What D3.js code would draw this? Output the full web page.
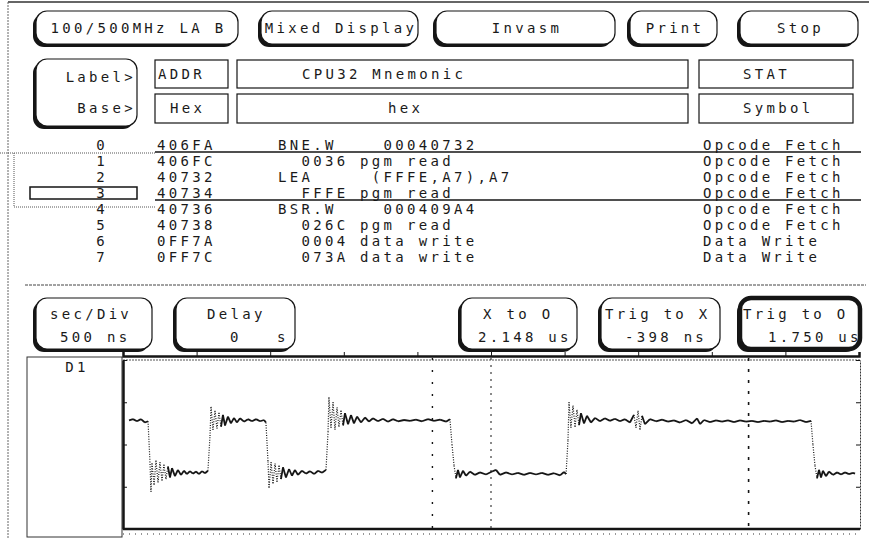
<!DOCTYPE html>
<meta charset="utf-8">
<script src="https://d3js.org/d3.v7.min.js"></script>
<style>
    body { margin: 0; background: white; }
    svg { display: block; }
    text { font-family: "DejaVu Sans Mono", monospace; font-size: 14px; letter-spacing: 3.3px; fill: #1a1a1a; white-space: pre; }
</style>
<body>
<div id="screen"></div>
<script>
// ---- data ----
var menuLabels = ["100/500MHz LA B", "Mixed Display", "Invasm", "Print", "Stop"];
var headerLabels = ["ADDR", "CPU32 Mnemonic", "STAT"];
var baseLabels = ["Hex", "hex", "Symbol"];
var rowIndex = ["0", "1", "2", "3", "4", "5", "6", "7"];
var rowAddr = ["406FA", "406FC", "40732", "40734", "40736", "40738", "0FF7A", "0FF7C"];
var rowMnemonic = [
    "BNE.W    00040732",
    "  0036 pgm read",
    "LEA     (FFFE,A7),A7",
    "  FFFE pgm read",
    "BSR.W    000409A4",
    "  026C pgm read",
    "  0004 data write",
    "  073A data write"
];
var rowStat = ["Opcode Fetch", "Opcode Fetch", "Opcode Fetch", "Opcode Fetch",
    "Opcode Fetch", "Opcode Fetch", "Data Write", "Data Write"];
var controlTitles = ["sec/Div", "Delay", "X to O", "Trig to X", "Trig to O"];
var controlValues = ["500 ns", "0   s", "2.148 us", "-398 ns", "1.750 us"];

// time window (ns) and markers
var timeDomain = [-2500, 2500];
var markerX = -398, markerO = 1750, trigger = 0;

// D1 waveform: [time ns, level in divisions]
var wave = [
    [-2459, 2.57], [-2432, 2.60], [-2405, 2.55], [-2378, 2.60], [-2351, 2.52], [-2330, 2.55],
    [-2317, 1.60], [-2310, 0.88], [-2303, 1.55], [-2289, 1.05], [-2276, 1.62], [-2262, 1.10],
    [-2249, 1.58], [-2235, 1.15], [-2222, 1.52], [-2208, 1.18], [-2195, 1.48], [-2181, 1.22],
    [-2167, 1.44], [-2147, 1.25], [-2127, 1.40], [-2106, 1.28], [-2086, 1.38], [-2066, 1.30],
    [-2045, 1.37], [-2025, 1.31], [-2004, 1.36], [-1984, 1.30], [-1963, 1.37], [-1943, 1.32],
    [-1923, 1.38],
    [-1909, 2.20], [-1902, 2.89], [-1889, 2.35], [-1875, 2.80], [-1862, 2.38], [-1848, 2.75],
    [-1834, 2.42], [-1821, 2.70], [-1807, 2.45], [-1787, 2.66], [-1767, 2.50], [-1746, 2.63],
    [-1726, 2.52], [-1705, 2.62], [-1678, 2.54], [-1651, 2.60], [-1624, 2.55], [-1596, 2.60],
    [-1569, 2.55], [-1542, 2.58], [-1529, 2.52],
    [-1515, 1.60], [-1508, 0.98], [-1494, 1.58], [-1481, 1.08], [-1467, 1.55], [-1454, 1.12],
    [-1440, 1.50], [-1427, 1.18], [-1413, 1.46], [-1393, 1.22], [-1372, 1.42], [-1352, 1.26],
    [-1332, 1.40], [-1311, 1.28], [-1284, 1.38], [-1257, 1.31], [-1230, 1.37], [-1202, 1.30],
    [-1175, 1.38], [-1148, 1.33], [-1121, 1.40],
    [-1107, 2.30], [-1101, 3.12], [-1087, 2.40], [-1073, 3.00], [-1060, 2.35], [-1046, 2.88],
    [-1033, 2.42], [-1019, 2.80], [-1005, 2.45], [-992, 2.74], [-971, 2.48], [-951, 2.70],
    [-931, 2.50], [-910, 2.66], [-883, 2.52], [-856, 2.64], [-829, 2.54], [-802, 2.62],
    [-768, 2.55], [-734, 2.61], [-700, 2.54], [-666, 2.60], [-632, 2.55], [-591, 2.58],
    [-550, 2.56], [-510, 2.59], [-469, 2.55], [-428, 2.60], [-387, 2.56], [-346, 2.59],
    [-306, 2.54], [-279, 2.60],
    [-265, 2.00], [-251, 1.50], [-238, 1.20], [-224, 1.40], [-211, 1.22], [-190, 1.38],
    [-170, 1.26], [-143, 1.36], [-109, 1.28], [-75, 1.34], [-34, 1.29], [7, 1.36],
    [34, 1.40], [61, 1.28], [102, 1.34], [143, 1.29], [183, 1.33], [224, 1.28],
    [265, 1.33], [306, 1.29], [346, 1.33], [387, 1.28], [428, 1.32], [469, 1.27],
    [496, 1.35], [510, 1.30],
    [523, 2.10], [530, 3.00], [543, 2.40], [557, 2.92], [571, 2.42], [584, 2.82],
    [598, 2.46], [611, 2.74], [632, 2.50], [652, 2.68], [679, 2.52], [707, 2.63],
    [740, 2.55], [774, 2.62], [808, 2.56], [842, 2.61], [876, 2.55], [910, 2.60],
    [944, 2.52], [971, 2.70], [985, 2.40], [999, 2.80], [1012, 2.35], [1026, 2.68],
    [1046, 2.48], [1080, 2.60], [1121, 2.55], [1162, 2.59], [1202, 2.54], [1243, 2.57],
    [1284, 2.52], [1325, 2.58], [1366, 2.50], [1400, 2.62], [1420, 2.48], [1447, 2.58],
    [1488, 2.53], [1529, 2.57], [1569, 2.54], [1610, 2.57], [1651, 2.53], [1692, 2.57],
    [1732, 2.54], [1773, 2.56], [1814, 2.53], [1855, 2.56], [1896, 2.54], [1936, 2.57],
    [1977, 2.53], [2018, 2.56], [2059, 2.54], [2099, 2.58], [2140, 2.53], [2174, 2.56],
    [2187, 2.00], [2201, 1.50], [2215, 1.20], [2228, 1.40], [2242, 1.22], [2255, 1.38],
    [2276, 1.25], [2296, 1.36], [2323, 1.28], [2351, 1.34], [2378, 1.29], [2405, 1.34],
    [2432, 1.30], [2459, 1.33], [2473, 1.31]
];

var width = 869, height = 539;
var ink = "#151515";

var svg = d3.select("#screen").append("svg")
    .attr("width", width)
    .attr("height", height);

svg.append("rect").attr("width", width).attr("height", height).attr("fill", "#fff");

// outer frame of the screen
svg.append("line").attr("x1", 8).attr("x2", width).attr("y1", 2).attr("y2", 2)
    .attr("stroke", "#333").attr("stroke-width", 1.5);
svg.append("line").attr("x1", 8).attr("x2", 8).attr("y1", 2).attr("y2", height)
    .attr("stroke", "#666").attr("stroke-width", 1).attr("stroke-dasharray", "2,1");

// rounded soft-key with a shadow on the left and bottom
function button(x, y, w, h, thick) {
    var g = svg.append("g");
    g.append("rect")
        .attr("x", x).attr("y", y + 3).attr("width", w - 3).attr("height", h - 3)
        .attr("rx", 11).attr("fill", ink);
    g.append("rect")
        .attr("x", x + 3).attr("y", y).attr("width", w - 3).attr("height", h - 3)
        .attr("rx", 11).attr("fill", "#fff")
        .attr("stroke", ink).attr("stroke-width", thick ? 4.5 : 1.2);
    return g;
}

// top menu row
var menuBox = [[33, 205], [258, 160], [433, 182], [627, 90], [737, 121]];
menuLabels.forEach(function (d, i) {
    var b = menuBox[i];
    button(b[0], 11, b[1], 36);
    svg.append("text")
        .attr("x", b[0] + b[1] / 2 + 3).attr("y", 33)
        .attr("text-anchor", "middle")
        .text(d);
});

// Label> / Base> key
button(33, 59, 104, 70);
svg.append("text").attr("x", 136).attr("y", 82).attr("text-anchor", "end").text("Label>");
svg.append("text").attr("x", 136).attr("y", 113).attr("text-anchor", "end").text("Base>");

// label and base boxes
var colBox = [[155, 73], [237, 451], [699, 154]];
var labelX = [158, 302, 743];
var baseX = [170, 388, 743];
colBox.forEach(function (b, i) {
    svg.append("rect").attr("x", b[0]).attr("y", 60).attr("width", b[1]).attr("height", 28)
        .attr("fill", "none").attr("stroke", ink).attr("stroke-width", 1.2);
    svg.append("rect").attr("x", b[0]).attr("y", 94).attr("width", b[1]).attr("height", 29)
        .attr("fill", "none").attr("stroke", ink).attr("stroke-width", 1.2);
    svg.append("text").attr("x", labelX[i]).attr("y", 79).text(headerLabels[i]);
    svg.append("text").attr("x", baseX[i]).attr("y", 113).text(baseLabels[i]);
});

// listing rows
var rowY = d3.scaleLinear().domain([0, rowIndex.length - 1]).range([145, 257]);

var rows = svg.append("g");
rowIndex.forEach(function (d, i) {
    var y = rowY(i) + 5;
    rows.append("text").attr("x", 102).attr("y", y).attr("text-anchor", "middle").text(d);
    rows.append("text").attr("x", 157).attr("y", y).text(rowAddr[i]);
    rows.append("text").attr("x", 278).attr("y", y).attr("xml:space", "preserve").text(rowMnemonic[i]);
    rows.append("text").attr("x", 703).attr("y", y).text(rowStat[i]);
});

// underlines on the first row and the current row, and the dotted window
[0, 3].forEach(function (i) {
    rows.append("line")
        .attr("x1", 155).attr("x2", 861)
        .attr("y1", rowY(i) + 7).attr("y2", rowY(i) + 7)
        .attr("stroke", ink).attr("stroke-width", 1.6);
});
rows.append("path")
    .attr("d", "M0," + (rowY(0) + 8) + "H156M14," + (rowY(0) + 8) + "V" + (rowY(3) + 14) + "H156")
    .attr("fill", "none").attr("stroke", "#555").attr("stroke-width", 1).attr("stroke-dasharray", "1,1");
rows.append("rect")
    .attr("x", 30).attr("y", rowY(3) - 6).attr("width", 107).attr("height", 12)
    .attr("fill", "none").attr("stroke", ink).attr("stroke-width", 1.5);

// separator under the listing
svg.append("line").attr("x1", 25).attr("x2", 866).attr("y1", 285).attr("y2", 285)
    .attr("stroke", "#444").attr("stroke-width", 1).attr("stroke-dasharray", "3,1");

// waveform controls
var ctrlBox = [[33, 119], [173, 122], [458, 119], [598, 122], [737, 123]];
var ctrlTitleX = [50, 207, 483, 605, 743];
var ctrlValueX = [60, 230, 478, 625, 768];
controlTitles.forEach(function (d, i) {
    var b = ctrlBox[i];
    button(b[0], 298, b[1], 54, i === 4);
    svg.append("text").attr("x", ctrlTitleX[i]).attr("y", 319).text(d);
    svg.append("text").attr("x", ctrlValueX[i]).attr("y", 342).attr("xml:space", "preserve").text(controlValues[i]);
});

// ---- waveform display ----
var x = d3.scaleLinear().domain(timeDomain).range([123, 859]);
var y = d3.scaleLinear().domain([0, 4]).range([529, 360]);

// label column
svg.append("rect").attr("x", 27).attr("y", 357).attr("width", 95).attr("height", 180)
    .attr("fill", "none").attr("stroke", "#333").attr("stroke-width", 1);
svg.append("text").attr("x", 77).attr("y", 372).attr("text-anchor", "middle").text("D1");

var plot = svg.append("g");

// time axis along the top
var topAxis = plot.append("g")
    .attr("transform", "translate(0,356)")
    .call(d3.axisTop(x).ticks(10).tickSize(4).tickFormat(""));
topAxis.select(".domain").attr("stroke", ink).attr("stroke-width", 2.5);
topAxis.selectAll(".tick line").attr("stroke", ink);

plot.append("line").attr("x1", 123).attr("x2", 860).attr("y1", y(4)).attr("y2", y(4))
    .attr("stroke", "#555").attr("stroke-dasharray", "2,1");

// vertical scale ticks on both sides
var leftAxis = plot.append("g")
    .attr("transform", "translate(123,0)")
    .call(d3.axisRight(y).ticks(4).tickSize(4).tickFormat("").tickSizeOuter(0));
leftAxis.select(".domain").attr("stroke", ink).attr("stroke-width", 2.5);
leftAxis.selectAll(".tick line").attr("stroke", ink);

var rightAxis = plot.append("g")
    .attr("transform", "translate(860,0)")
    .call(d3.axisLeft(y).ticks(4).tickSize(4).tickFormat("").tickSizeOuter(0));
rightAxis.select(".domain").attr("stroke", "#333").attr("stroke-dasharray", "2,1");
rightAxis.selectAll(".tick line").attr("stroke", ink);

plot.append("line").attr("x1", 123).attr("x2", 860).attr("y1", y(0)).attr("y2", y(0))
    .attr("stroke", ink).attr("stroke-width", 2.5);
plot.append("line").attr("x1", 123).attr("x2", 860).attr("y1", 534).attr("y2", 534)
    .attr("stroke", "#333").attr("stroke-width", 1.2).attr("stroke-dasharray", "1,5");

// markers
plot.append("line").attr("x1", x(markerX)).attr("x2", x(markerX)).attr("y1", 358).attr("y2", y(0))
    .attr("stroke", ink).attr("stroke-width", 1.4).attr("stroke-dasharray", "2,10");
plot.append("line").attr("x1", x(trigger)).attr("x2", x(trigger)).attr("y1", 358).attr("y2", y(0))
    .attr("stroke", ink).attr("stroke-width", 1).attr("stroke-dasharray", "2,5");
plot.append("line").attr("x1", x(markerO)).attr("x2", x(markerO)).attr("y1", 358).attr("y2", y(0))
    .attr("stroke", ink).attr("stroke-width", 1.6).attr("stroke-dasharray", "3,8");

// trace: steep steps drawn dotted like the scope's sampled dots
var segs = d3.pairs(wave);
plot.selectAll("line.trace")
    .data(segs)
    .enter().append("line")
    .attr("class", "trace")
    .attr("x1", function (d) { return x(d[0][0]); })
    .attr("y1", function (d) { return y(d[0][1]); })
    .attr("x2", function (d) { return x(d[1][0]); })
    .attr("y2", function (d) { return y(d[1][1]); })
    .attr("stroke", ink)
    .attr("stroke-width", function (d) { return Math.abs(d[1][1] - d[0][1]) > 0.3 ? 1.2 : 1.8; })
    .attr("stroke-dasharray", function (d) { return Math.abs(d[1][1] - d[0][1]) > 0.3 ? "1,1.5" : null; });
</script>
</body>
